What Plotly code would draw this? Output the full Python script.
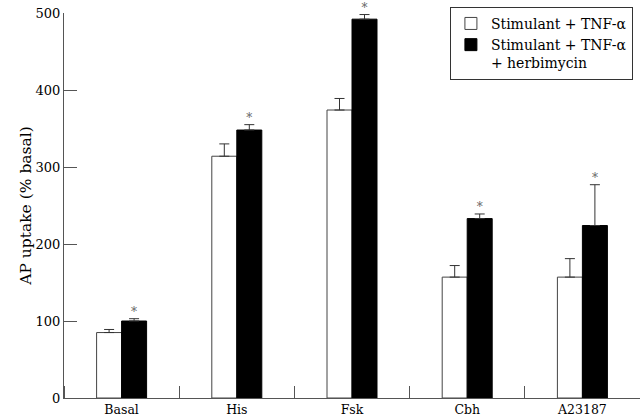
import plotly.graph_objects as go

categories = ["Basal", "His", "Fsk", "Cbh", "A23187"]
tnf = [85, 314, 374, 157, 157]
tnf_err = [4, 16, 15, 15, 24]
herb = [100, 348, 492, 233, 224]
herb_err = [3, 7, 6, 6, 53]
significant = [True, True, True, True, True]

x = list(range(len(categories)))
bw = 0.217
font = "DejaVu Serif"

fig = go.Figure()
fig.add_trace(go.Bar(
    x=x, y=tnf, width=bw, offset=-bw, name="Stimulant + TNF-α",
    marker=dict(color="white", line=dict(color="#444", width=1)),
    error_y=dict(type="data", symmetric=False, array=tnf_err, arrayminus=[0]*5,
                 color="#333", thickness=1, width=5),
))
fig.add_trace(go.Bar(
    x=x, y=herb, width=bw, offset=0, name="Stimulant + TNF-α<br>+ herbimycin",
    marker=dict(color="black", line=dict(color="black", width=1)),
    error_y=dict(type="data", symmetric=False, array=herb_err, arrayminus=[0]*5,
                 color="#333", thickness=1, width=5),
))
sx = [i + bw / 2 for i, s in zip(x, significant) if s]
sy = [h + e for h, e, s in zip(herb, herb_err, significant) if s]
fig.add_trace(go.Scatter(
    x=sx, y=sy, mode="text", text=["*"] * len(sx), textposition="top center",
    textfont=dict(family=font, size=12, color="#666"), showlegend=False, hoverinfo="skip",
    cliponaxis=False,
))

fig.update_layout(
    width=640, height=417,
    margin=dict(l=64, r=0, t=13, b=19, autoexpand=False),
    paper_bgcolor="white", plot_bgcolor="white",
    font=dict(family=font, size=13, color="black"),
    showlegend=True,
    legend=dict(x=0.67, y=1.016, xanchor="left", yanchor="top",
                bgcolor="white", bordercolor="#333", borderwidth=1,
                font=dict(family=font, size=14), valign="top",
                tracegroupgap=2, itemwidth=30),
    xaxis=dict(range=[-0.5, 4.5], tickvals=x, ticktext=categories, ticks="",
               showline=True, linecolor="#555", linewidth=1, showgrid=False, zeroline=False,
               tickfont=dict(family=font, size=12.5), automargin=False,
               minor=dict(tick0=0.5, dtick=1, ticks="inside", ticklen=12, tickcolor="#555", showgrid=False)),
    yaxis=dict(range=[0, 500], dtick=100, ticks="inside", ticklen=13, tickcolor="#555",
               showline=True, linecolor="#555", linewidth=1, showgrid=False, zeroline=False,
               automargin=False, ticklabeloverflow="allow",
               title=dict(text="AP uptake (% basal)", font=dict(family=font, size=15.5), standoff=0),
               tickfont=dict(family=font, size=13)),
)

fig.write_html("out.html", config={"displayModeBar": False},
               post_script="document.body.style.margin='0';")
